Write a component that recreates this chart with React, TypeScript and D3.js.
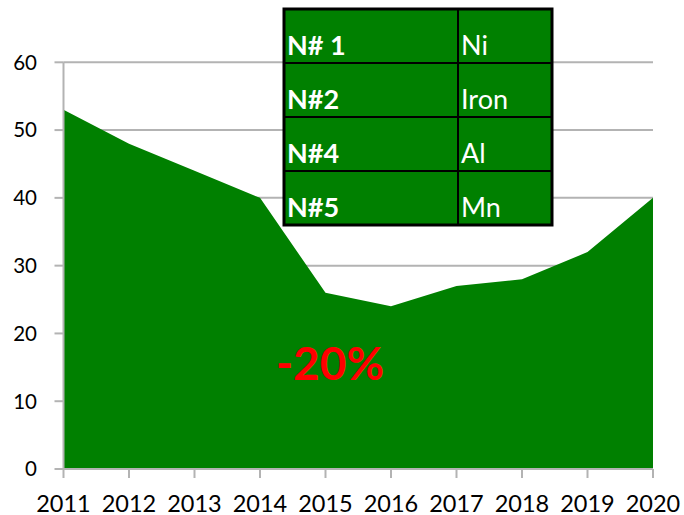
import React from "react";
import * as d3 from "d3";

const years = [2011, 2012, 2013, 2014, 2015, 2016, 2017, 2018, 2019, 2020];
const values = [53, 48, 44, 40, 26, 24, 27, 28, 32, 40];
const yTicks = [0, 10, 20, 30, 40, 50, 60];
const tableCodes = ["N# 1", "N#2", "N#4", "N#5"];
const tableElements = ["Ni", "Iron", "Al", "Mn"];
const annotation = "-20%";

const W = 684;
const H = 515;
const FONT = "Lato, 'Open Sans', sans-serif";

export default function App() {
  const x = d3.scaleLinear().domain([2011, 2020]).range([63.5, 653]);
  const y = d3.scaleLinear().domain([0, 60]).range([469, 62.3]);
  const area = d3
    .area<number>()
    .x((_, i) => x(years[i]))
    .y0(y(0))
    .y1((d) => y(d));

  const tX0 = 284, tX1 = 552, tDiv = 458, tY0 = 9, tY1 = 225;
  const rowH = (tY1 - tY0) / tableCodes.length;

  return (
    <svg width={W} height={H} style={{ position: "absolute", left: 0, top: 0, background: "#fff" }}>
      {yTicks.map((t) => (
        <g key={t}>
          {t > 0 && (
            <line x1={x(2011)} x2={x(2020)} y1={y(t)} y2={y(t)} stroke="#b3b3b3" strokeWidth={2} />
          )}
          <line x1={x(2011) - 9} x2={x(2011)} y1={y(t)} y2={y(t)} stroke="#b3b3b3" strokeWidth={2} />
          <text x={37} y={y(t)} dy="0.36em" textAnchor="end" fontFamily={FONT} fontSize={20.5} fill="#000">
            {t}
          </text>
        </g>
      ))}
      <path d={area(values) || ""} fill="#008000" />
      <line x1={x(2011)} x2={x(2011)} y1={y(60)} y2={y(0)} stroke="#b3b3b3" strokeWidth={2} />
      <line x1={x(2011)} x2={x(2020)} y1={y(0)} y2={y(0)} stroke="#b3b3b3" strokeWidth={2} />
      {years.map((yr) => (
        <g key={yr}>
          <line x1={x(yr)} x2={x(yr)} y1={y(0)} y2={y(0) + 9} stroke="#b3b3b3" strokeWidth={2} />
          <text x={x(yr)} y={511.5} textAnchor="middle" fontFamily={FONT} fontSize={23.5} fill="#000">
            {yr}
          </text>
        </g>
      ))}
      <text x={330} y={380} textAnchor="middle" fontFamily={FONT} fontWeight="bold" fontSize={46} fill="#ff0000">
        {annotation}
      </text>
      <g>
        <rect x={tX0} y={tY0} width={tX1 - tX0} height={tY1 - tY0} fill="#008000" stroke="#000" strokeWidth={3} />
        {tableCodes.slice(1).map((_, i) => (
          <line key={i} x1={tX0} x2={tX1} y1={tY0 + rowH * (i + 1)} y2={tY0 + rowH * (i + 1)} stroke="#000" strokeWidth={2} />
        ))}
        <line x1={tDiv} x2={tDiv} y1={tY0} y2={tY1} stroke="#000" strokeWidth={2} />
        {tableCodes.map((c, i) => (
          <text key={c} x={tX0 + 3} y={tY0 + rowH * (i + 1) - 8} fontFamily={FONT} fontWeight="bold" fontSize={27} fill="#fff">
            {c}
          </text>
        ))}
        {tableElements.map((c, i) => (
          <text key={c} x={tDiv + 3} y={tY0 + rowH * (i + 1) - 8} fontFamily={FONT} fontSize={27} fill="#fff">
            {c}
          </text>
        ))}
      </g>
    </svg>
  );
}
